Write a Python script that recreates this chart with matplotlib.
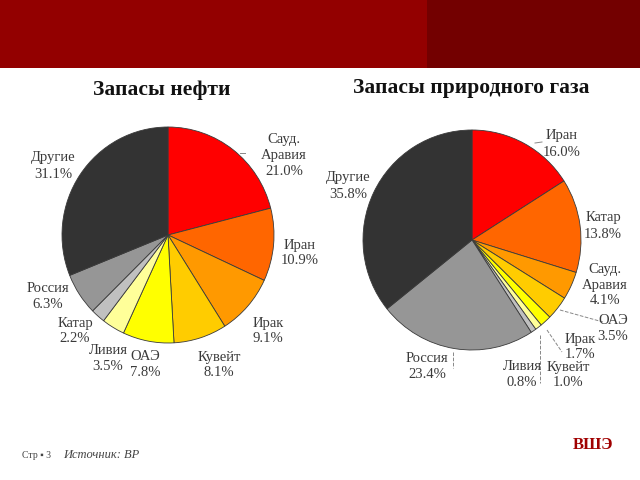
#!/usr/bin/env python3
# -*- coding: utf-8 -*-

import matplotlib
matplotlib.use('Agg')
import matplotlib.pyplot as plt
from matplotlib.patches import Rectangle
from matplotlib.lines import Line2D

# данные: запасы нефти
oil_labels = ['Сауд.\nАравия', 'Иран', 'Ирак', 'Кувейт', 'ОАЭ', 'Ливия', 'Катар', 'Россия', 'Другие']
oil_values = [21.0, 10.9, 9.1, 8.1, 7.8, 3.5, 2.2, 6.3, 31.1]

# данные: запасы природного газа
gas_labels = ['Иран', 'Катар', 'Сауд.\nАравия', 'ОАЭ', 'Ирак', 'Кувейт', 'Ливия', 'Россия', 'Другие']
gas_values = [16.0, 13.8, 4.1, 3.5, 1.7, 1.0, 0.8, 23.4, 35.8]

colors = ['#FF0000', '#FF6600', '#FF9900', '#FFCC00', '#FFFF00', '#FFFF99',
          '#C0C0C0', '#969696', '#333333']

# позиции подписей (в пикселях, от левого верхнего угла)
oil_label_pos = [(284, 155), (300, 253), (268, 331), (219, 365), (145, 364),
                 (108, 358), (75, 331), (48, 296), (53, 166)]
gas_label_pos = [(562, 144), (603, 226), (605, 285), (613, 329), (580, 347),
                 (568, 375), (522, 375), (427, 367), (348, 186)]

W, H = 640, 480
SERIF = ['Liberation Serif', 'DejaVu Serif']


def px_axes(fig, cx, cy, rx, ry):
    """оси под круг с центром (cx, cy) в пикселях"""
    return fig.add_axes([(cx - rx) / W, 1 - (cy + ry) / H, 2 * rx / W, 2 * ry / H])


def draw_pie(fig, values, labels, label_pos, cx, cy, rx, ry):
    ax = px_axes(fig, cx, cy, rx, ry)
    ax.pie(values, colors=colors, startangle=90, counterclock=False,
           wedgeprops=dict(edgecolor='#3a3a3a', linewidth=0.6))
    ax.set_aspect('auto')
    ax.set_xlim(-1, 1)
    ax.set_ylim(-1, 1)
    ax.axis('off')
    for lab, v, (x, y) in zip(labels, values, label_pos):
        fig.text(x / W, 1 - y / H, f'{lab}\n{v:.1f}%', ha='center', va='center',
                 fontsize=10.5, color='#3a3a3a', family=SERIF, linespacing=1.3)


def leader(fig, x0, y0, x1, y1, ls='--'):
    fig.add_artist(Line2D([x0 / W, x1 / W], [1 - y0 / H, 1 - y1 / H],
                          transform=fig.transFigure, color='#888888',
                          linewidth=0.7, linestyle=ls))


fig = plt.figure(figsize=(6.4, 4.8), dpi=100)
fig.patch.set_facecolor('white')

# шапка
fig.add_artist(Rectangle((0, 1 - 68 / H), 427 / W, 68 / H, transform=fig.transFigure,
                         facecolor='#930000', edgecolor='none'))
fig.add_artist(Rectangle((427 / W, 1 - 68 / H), 1 - 427 / W, 68 / H, transform=fig.transFigure,
                         facecolor='#730000', edgecolor='none'))

# заголовки
fig.text(162 / W, 1 - 90 / H, 'Запасы нефти', ha='center', va='center',
         fontsize=15.5, fontweight='bold', family=SERIF, color='#111111')
fig.text(471 / W, 1 - 88 / H, 'Запасы природного газа', ha='center', va='center',
         fontsize=15.5, fontweight='bold', family=SERIF, color='#111111')

draw_pie(fig, oil_values, oil_labels, oil_label_pos, 168, 235, 106, 108)
draw_pie(fig, gas_values, gas_labels, gas_label_pos, 472, 240, 109, 110)

# выноски
leader(fig, 240, 153, 245, 153, ls='-')
leader(fig, 535, 143, 542, 142, ls='-')
leader(fig, 560, 310, 603, 322)
leader(fig, 547, 330, 562, 352)
leader(fig, 540, 335, 540, 383)
leader(fig, 453, 352, 453, 368)

# подвал
fig.text(22 / W, 1 - 456 / H, 'Стр ▪ 3', ha='left', va='center',
         fontsize=7, color='#444444', family=SERIF)
fig.text(63 / W, 1 - 455 / H, 'Источник: BP', ha='left', va='center',
         fontsize=9, style='italic', color='#444444', family=SERIF)
fig.text(593 / W, 1 - 445 / H, 'ВШЭ', ha='center', va='center',
         fontsize=12, fontweight='bold', color='#A00000', family=SERIF)

fig.savefig('out.png', dpi=100)
